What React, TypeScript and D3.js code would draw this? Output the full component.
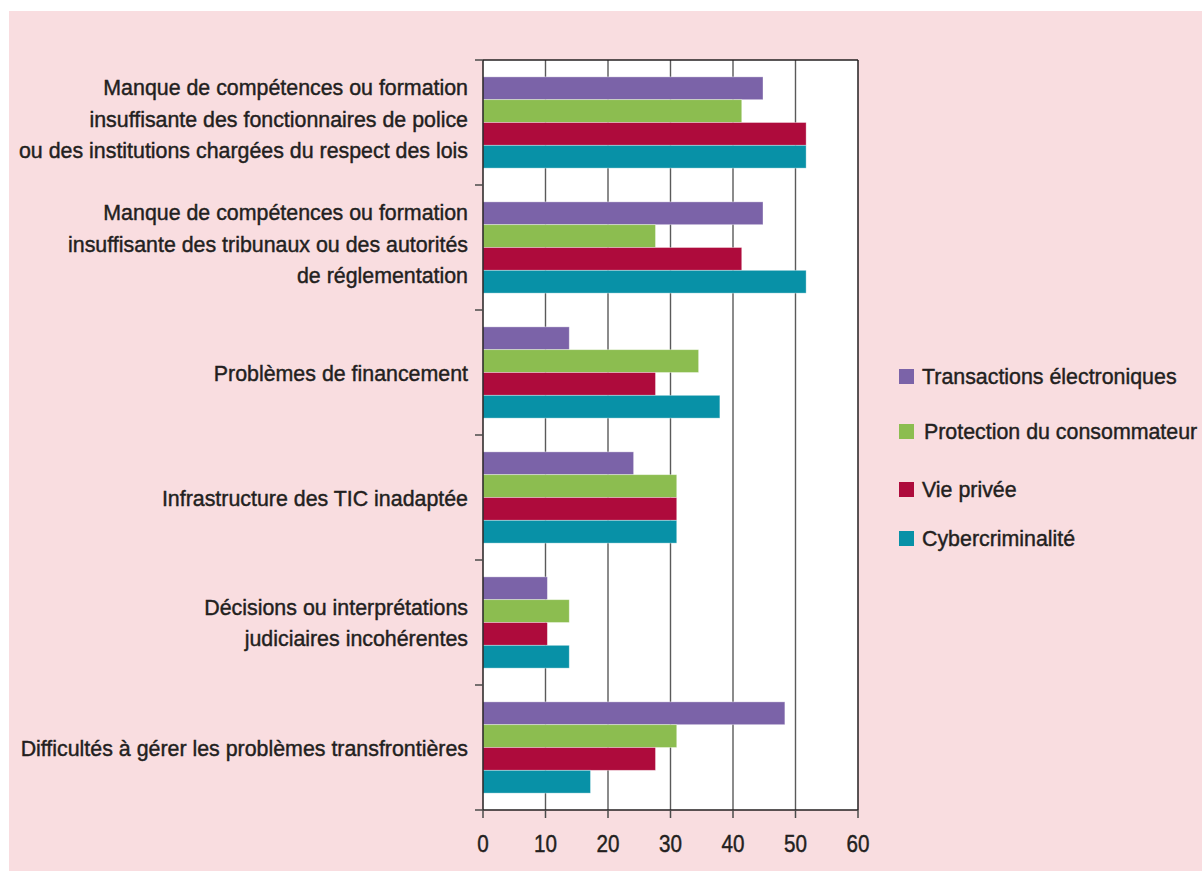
import React from "react";
import * as d3 from "d3";

const categories: string[][] = [
  ["Manque de compétences ou formation", "insuffisante des fonctionnaires de police", "ou des institutions chargées du respect des lois"],
  ["Manque de compétences ou formation", "insuffisante des tribunaux ou des autorités", "de réglementation"],
  ["Problèmes de financement"],
  ["Infrastructure des TIC inadaptée"],
  ["Décisions ou interprétations", "judiciaires incohérentes"],
  ["Difficultés à gérer les problèmes transfrontières"],
];

const seriesNames = [
  "Transactions électroniques",
  "Protection du consommateur",
  "Vie privée",
  "Cybercriminalité",
];

const seriesColors = ["#7b63a8", "#8cbd50", "#ae0b3c", "#0891a7"];

// Percentages per category, in series order above
const transactions = [44.8, 44.8, 13.8, 24.1, 10.3, 48.3];
const protection = [41.4, 27.6, 34.5, 31.0, 13.8, 31.0];
const viePrivee = [51.7, 41.4, 27.6, 31.0, 10.3, 27.6];
const cyber = [51.7, 51.7, 37.9, 31.0, 13.8, 17.2];

const seriesValues = [transactions, protection, viePrivee, cyber];
const xTicks = [0, 10, 20, 30, 40, 50, 60];

const FONT = "'Liberation Sans', Arial, sans-serif";
const TEXT = "#231f20";

// Condensed-looking text: Liberation Sans squeezed horizontally, slightly thickened
function Label(props: {
  x: number;
  y: number;
  anchor: "start" | "middle" | "end";
  size: number;
  squeeze: number;
  children: React.ReactNode;
}) {
  return (
    <g transform={`translate(${props.x},${props.y}) scale(${props.squeeze},1)`}>
      <text
        x={0}
        y={0}
        textAnchor={props.anchor}
        fontSize={props.size}
        fill={TEXT}
        stroke={TEXT}
        strokeWidth={0.45}
      >
        {props.children}
      </text>
    </g>
  );
}

export default function App() {
  const W = 1202;
  const H = 871;
  const left = 483, right = 858, top = 60, bottom = 810;

  const x = d3.scaleLinear().domain([0, 60]).range([left, right]);
  const idx = categories.map((_, i) => String(i));
  const y0 = d3.scaleBand().domain(idx).range([top, bottom]).paddingInner(0.27).paddingOuter(0.135);
  const y1 = d3.scaleBand().domain(seriesNames).range([0, y0.bandwidth()]);
  const step = y0.step();
  const boundaries = d3.range(categories.length + 1).map((i) => top + i * step);

  const legendY = [376, 431, 489, 538];
  const lineH = 31.5;

  return (
    <svg width={W} height={H} style={{ position: "absolute", left: 0, top: 0 }} fontFamily={FONT}>
      <rect x={0} y={0} width={W} height={H} fill="#ffffff" />
      <rect x={9} y={11} width={W - 9} height={H - 11} fill="#f9dde0" />
      <rect x={left} y={top} width={right - left} height={bottom - top} fill="#ffffff" />

      {/* vertical gridlines */}
      {xTicks.slice(1, -1).map((t) => (
        <line key={t} x1={x(t)} x2={x(t)} y1={top} y2={bottom} stroke="#5a5a5a" strokeWidth={1.4} />
      ))}

      {/* bars */}
      {categories.map((_, ci) => (
        <g key={ci} transform={`translate(0,${y0(String(ci))})`}>
          {seriesNames.map((s, si) => (
            <rect
              key={s}
              x={x(0)}
              y={y1(s)}
              width={x(seriesValues[si][ci]) - x(0)}
              height={y1.bandwidth()}
              fill={seriesColors[si]}
              stroke="#ffffff"
              strokeOpacity={0.45}
              strokeWidth={0.8}
            />
          ))}
        </g>
      ))}

      {/* frame */}
      <line x1={left} x2={right} y1={top} y2={top} stroke="#231f20" strokeWidth={1.5} />
      <line x1={right} x2={right} y1={top} y2={bottom} stroke="#231f20" strokeWidth={1.5} />
      <line x1={left} x2={right} y1={bottom} y2={bottom} stroke="#231f20" strokeWidth={1.5} />
      <line x1={left} x2={left} y1={top} y2={bottom} stroke="#231f20" strokeWidth={1.5} />

      {/* y axis ticks */}
      {boundaries.map((b, i) => (
        <line key={i} x1={left - 8} x2={left} y1={b} y2={b} stroke="#4a4a4a" strokeWidth={1.5} />
      ))}

      {/* x axis ticks and labels */}
      {xTicks.map((t) => (
        <g key={t}>
          <line x1={x(t)} x2={x(t)} y1={bottom} y2={bottom + 8} stroke="#4a4a4a" strokeWidth={1.5} />
          <Label x={x(t)} y={852} anchor="middle" size={24} squeeze={0.86}>
            {t}
          </Label>
        </g>
      ))}

      {/* category labels */}
      {categories.map((lines, ci) => {
        const c = (y0(String(ci)) as number) + y0.bandwidth() / 2;
        const first = c - ((lines.length - 1) * lineH) / 2 - (lines.length === 3 ? 4 : 0);
        return (
          <g key={ci}>
            {lines.map((l, li) => (
              <Label key={li} x={468} y={first + li * lineH + 8} anchor="end" size={23} squeeze={0.93}>
                {l}
              </Label>
            ))}
          </g>
        );
      })}

      {/* legend */}
      {seriesNames.map((s, si) => (
        <g key={s}>
          <rect x={899} y={legendY[si] - 7} width={15} height={15} fill={seriesColors[si]} />
          <Label x={si === 1 ? 924 : 922} y={legendY[si] + 8} anchor="start" size={23} squeeze={0.93}>
            {s}
          </Label>
        </g>
      ))}
    </svg>
  );
}
